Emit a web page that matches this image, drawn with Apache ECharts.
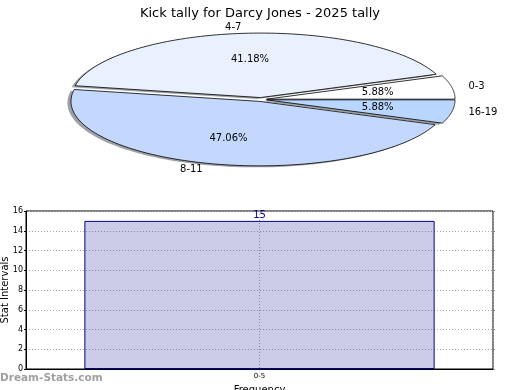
<!DOCTYPE html>
<html>
<head>
<meta charset="utf-8">
<script src="https://cdn.jsdelivr.net/npm/echarts@6/dist/echarts.min.js"></script>
<style>html,body{margin:0;padding:0;background:#fff}#c{width:520px;height:390px}</style>
</head>
<body>
<div id="c"></div>
<script>
// ---- data ----
const pieCategories = ['0-3', '4-7', '8-11', '16-19'];
const pieValues = [1, 7, 8, 1];
const barCategories = ['0-5'];
const barValues = [15];
const yTicks = { min: 0, max: 16, interval: 2 };
const yAxisTitle = 'Stat Intervals';

// ---- styles / layout ----
const sliceColors = ['#ffffff', '#eaf1fe', '#c4d8fd', '#b9d6fe'];
const FONT = 'DejaVu Sans';
const PIE = { cx: 261, cy: 99.5, rx: 188.5, ry: 64.5, explode: 0.03 };

const total = pieValues.reduce((a, b) => a + b, 0);
const startOf = i => pieValues.slice(0, i).reduce((a, b) => a + b, 0);

function renderSlice(params, api) {
  const i = params.dataIndex;
  const v = api.value(0);
  const a0 = startOf(i) / total * Math.PI * 2;
  const a1 = (startOf(i) + v) / total * Math.PI * 2;
  const mid = (a0 + a1) / 2;
  const cx = PIE.cx + PIE.explode * PIE.rx * Math.cos(mid);
  const cy = PIE.cy - PIE.explode * PIE.ry * Math.sin(mid);
  const pts = [[cx, cy]];
  const N = 90;
  for (let k = 0; k <= N; k++) {
    const a = a0 + (a1 - a0) * k / N;
    pts.push([cx + PIE.rx * Math.cos(a), cy - PIE.ry * Math.sin(a)]);
  }
  const shadowPts = pts.map(p => [p[0] - 3.5, p[1] + 1.5]);
  const lx = cx + 1.1 * PIE.rx * Math.cos(mid);
  const ly = cy - 1.1 * PIE.ry * Math.sin(mid);
  const px = cx + 0.6 * PIE.rx * Math.cos(mid);
  const py = cy - 0.6 * PIE.ry * Math.sin(mid);
  const pct = (v / total * 100).toFixed(2) + '%';
  return {
    type: 'group',
    children: [
      { type: 'polygon', z2: 0, shape: { points: shadowPts },
        style: { fill: 'rgba(40,45,55,0.45)', stroke: null } },
      { type: 'polygon', z2: 10, shape: { points: pts },
        style: { fill: sliceColors[i], stroke: '#000', lineWidth: 0.8 } },
      { type: 'text', z2: 20, x: lx - (Math.cos(mid) < 0 ? 0 : 2), y: ly,
        style: { text: pieCategories[i], fill: '#000', font: '10px ' + FONT,
          align: Math.cos(mid) < 0 ? 'right' : 'left', verticalAlign: 'middle' } },
      { type: 'text', z2: 20, x: px, y: py,
        style: { text: pct, fill: '#000', font: '10px ' + FONT,
          align: 'center', verticalAlign: 'middle' } }
    ]
  };
}

const chart = echarts.init(document.getElementById('c'), null, { renderer: 'canvas' });
chart.setOption({
  animation: false,
  backgroundColor: '#fff',
  textStyle: { fontFamily: FONT },
  title: {
    text: 'Kick tally for Darcy Jones - 2025 tally',
    left: 'center', top: 2,
    textStyle: { fontSize: 13, fontWeight: 'normal', color: '#000', fontFamily: FONT }
  },
  graphic: [{
    type: 'text', left: 0, top: 373,
    style: { text: 'Dream-Stats.com', font: 'bold 10.5px ' + FONT, fill: '#a0a0a0' }
  }, {
    type: 'text', x: 5, y: 290, rotation: Math.PI / 2,
    style: { text: yAxisTitle, font: '10px ' + FONT, fill: '#000', align: 'center', verticalAlign: 'middle' }
  }],
  grid: { left: 26, right: 27, top: 211, bottom: 21, containLabel: false, outerBoundsMode: 'none',
    show: true, borderColor: '#000', borderWidth: 1, backgroundColor: 'transparent' },
  xAxis: [{
    type: 'category', data: barCategories, boundaryGap: true,
    name: 'Frequency', nameLocation: 'middle', nameGap: 16,
    nameTextStyle: { fontSize: 10, color: '#000', fontFamily: FONT },
    axisLine: { onZero: false, lineStyle: { color: '#000', width: 1 } },
    axisTick: { alignWithLabel: true, length: 3, lineStyle: { color: '#000' } },
    axisLabel: { fontSize: 7, color: '#000', margin: 4, fontFamily: FONT },
    splitLine: { show: false }
  }, {
    type: 'value', min: -0.5, max: 0.5, interval: 0.5, position: 'bottom',
    axisLine: { show: false, onZero: false }, axisTick: { show: false }, axisLabel: { show: false },
    splitLine: { show: true, lineStyle: { color: '#aaa', type: [1, 2], width: 1 } }
  }],
  yAxis: [{
    type: 'value', min: yTicks.min, max: yTicks.max, interval: yTicks.interval,
    axisLine: { show: true, onZero: false, lineStyle: { color: '#000' } },
    axisTick: { show: true, length: 2, lineStyle: { color: '#000' } },
    axisLabel: { fontSize: 8, color: '#000', margin: 3, fontFamily: FONT },
    splitLine: { show: true, lineStyle: { color: '#aaa', type: [1, 2], width: 1 } }
  }, {
    type: 'value', min: yTicks.min, max: yTicks.max, interval: yTicks.interval, position: 'right',
    axisLine: { show: false, onZero: false },
    axisTick: { show: true, length: 2, lineStyle: { color: '#888' } },
    axisLabel: { show: false }, splitLine: { show: false }
  }],
  series: [{
    type: 'custom', coordinateSystem: 'none',
    data: pieValues.map(v => [v]),
    renderItem: renderSlice, silent: true
  }, {
    type: 'bar', xAxisIndex: 0, yAxisIndex: 0,
    data: barValues, barWidth: '75%',
    itemStyle: { color: 'rgba(0,0,139,0.2)', borderColor: '#00008b', borderWidth: 1 },
    label: { show: true, position: 'top', distance: 0, color: '#00008b', fontSize: 10, fontFamily: FONT }
  }]
});
</script>
</body>
</html>
